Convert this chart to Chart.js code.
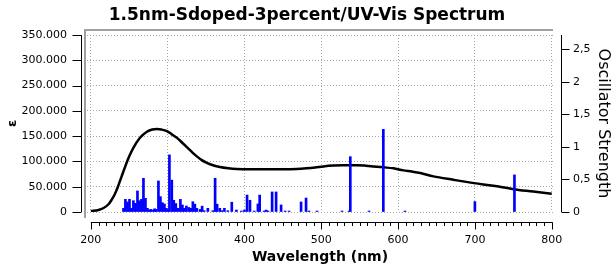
<!DOCTYPE html>
<html>
<head>
<meta charset="utf-8">
<script src="https://cdn.jsdelivr.net/npm/chart.js@4"></script>
<style>
  html, body { margin: 0; padding: 0; background: #fff; }
  #wrap { width: 614px; height: 268px; }
</style>
</head>
<body>
<div id="wrap"><canvas id="uvChart" width="614" height="268"></canvas></div>
<script>
// broadened spectrum (left axis, epsilon)
const waveCurve = [200, 210, 216, 223, 227, 231, 235, 240, 245, 250, 255, 264, 273, 280, 286, 292, 299, 305, 312, 319, 326, 332, 338, 344, 351, 359, 368, 379, 390, 405, 420, 440, 468, 481, 492, 503, 516, 529, 546, 558, 568, 581, 594, 607, 618, 629, 646, 672, 699, 724, 750, 776, 800]
const epsCurve = [2000, 4000, 7400, 15300, 23900, 34500, 49000, 70000, 91000, 110000, 126000, 146800, 158800, 163000, 164000, 163000, 160000, 154000, 146800, 137000, 126900, 118000, 110000, 103000, 97000, 92500, 89000, 86500, 85000, 84300, 84300, 84500, 85000, 86300, 88000, 90200, 91800, 92600, 92600, 91600, 90200, 88300, 86300, 82300, 80000, 77100, 70400, 63700, 57100, 51800, 45200, 40400, 35900]

// stick spectrum (right axis, oscillator strength)
const waveBars = [242.5, 245, 247.7, 250.3, 252.8, 255.4, 258, 260.7, 263.3, 265.9, 268.5, 271.1, 273.7, 276, 278, 280.7, 283, 285, 288, 290.6, 293.2, 295.8, 298.4, 300.2, 302.3, 305.4, 308, 310.6, 313.6, 316.6, 319.2, 321.8, 324.4, 327.5, 330.2, 332.8, 335.4, 338, 342.3, 344.9, 347.5, 352.3, 358.8, 361.8, 364.4, 367.9, 370.5, 373.9, 378.3, 383.5, 389.5, 396, 400, 403.4, 407.2, 412.7, 417.5, 419.8, 425.6, 428.2, 430.8, 436, 441.2, 447.7, 452.9, 458.1, 473.7, 480.2, 484.1, 494.5, 527, 536.2, 537.8, 562.2, 580.8, 609, 700, 751.5]
const oscStrength = [0.057, 0.195, 0.154, 0.195, 0.057, 0.174, 0.133, 0.323, 0.174, 0.195, 0.518, 0.21, 0.057, 0.03, 0.04, 0.03, 0.05, 0.04, 0.477, 0.236, 0.143, 0.123, 0.057, 0.03, 0.877, 0.49, 0.18, 0.13, 0.057, 0.195, 0.108, 0.057, 0.092, 0.07, 0.057, 0.158, 0.12, 0.057, 0.04, 0.09, 0.02, 0.057, 0.02, 0.518, 0.12, 0.057, 0.02, 0.057, 0.02, 0.15, 0.03, 0.015, 0.03, 0.26, 0.18, 0.015, 0.123, 0.26, 0.015, 0.03, 0.015, 0.308, 0.308, 0.108, 0.015, 0.015, 0.154, 0.215, 0.015, 0.015, 0.015, 0.015, 0.85, 0.015, 1.27, 0.015, 0.16, 0.57]

const xTicks = [200, 300, 400, 500, 600, 700, 800]
const yTicks = [0, 50000, 100000, 150000, 200000, 250000, 300000, 350000]
const y1Ticks = [0, 0.5, 1, 1.5, 2, 2.5]

Chart.defaults.font.family = 'DejaVu Sans'
Chart.defaults.color = '#000'

const thousands = v => String(v).replace(/\B(?=(\d{3})+(?!\d))/g, '.')
const commaDec = v => String(v).replace('.', ',')

// frame, offset axis lines and tick marks like the original program draws them
const axesPlugin = {
    id: 'axesPlugin',
    afterDraw(chart) {
        const { ctx, chartArea: a, scales } = chart
        const x = scales.x, y = scales.y, y1 = scales.y1
        ctx.save()
        // grey frame top + left
        ctx.fillStyle = '#a0a0a0'
        ctx.fillRect(a.left - 3, a.top - 6, a.right - a.left + 3, 2)
        ctx.fillRect(a.left - 3, a.top - 6, 2, a.bottom - a.top + 12)

        ctx.strokeStyle = '#000'
        ctx.lineWidth = 1
        ctx.beginPath()
        // left axis
        const lx = a.left - 5.5
        ctx.moveTo(lx, y.getPixelForValue(yTicks[yTicks.length - 1]))
        ctx.lineTo(lx, y.getPixelForValue(0))
        yTicks.forEach(v => {
            const py = Math.round(y.getPixelForValue(v)) + 0.5
            ctx.moveTo(lx - 9, py)
            ctx.lineTo(lx, py)
        })
        // right axis
        const rx = a.right + 8.5
        ctx.moveTo(rx, a.top)
        ctx.lineTo(rx, y1.getPixelForValue(0))
        y1Ticks.forEach(v => {
            const py = Math.round(y1.getPixelForValue(v)) + 0.5
            ctx.moveTo(rx, py)
            ctx.lineTo(rx + 8, py)
        })
        // bottom axis
        const by = a.bottom + 10.5
        ctx.moveTo(x.getPixelForValue(xTicks[0]), by)
        ctx.lineTo(x.getPixelForValue(xTicks[xTicks.length - 1]) + 1, by)
        for (let v = xTicks[0]; v <= xTicks[xTicks.length - 1]; v += 10) {
            const px = Math.round(x.getPixelForValue(v)) + 0.5
            ctx.moveTo(px, by)
            ctx.lineTo(px, by + (v % 100 === 0 ? 7 : 3.5))
        }
        ctx.stroke()
        ctx.restore()
    }
}

new Chart(document.getElementById('uvChart'), {
    type: 'bar',
    data: {
        datasets: [
            {
                type: 'bar',
                data: waveBars.map((w, i) => ({ x: w, y: oscStrength[i] })),
                yAxisID: 'y1',
                backgroundColor: '#0000ff',
                borderWidth: 0,
                barThickness: 2,
                order: 0
            },
            {
                type: 'line',
                data: waveCurve.map((w, i) => ({ x: w, y: epsCurve[i] })),
                yAxisID: 'y',
                borderColor: '#000',
                borderWidth: 2.5,
                pointRadius: 0,
                cubicInterpolationMode: 'monotone',
                order: 1
            }
        ]
    },
    options: {
        responsive: false,
        animation: false,
        devicePixelRatio: 1,
        layout: { padding: 0 },
        plugins: {
            legend: { display: false },
            tooltip: { enabled: false },
            title: {
                display: true,
                text: '1.5nm-Sdoped-3percent/UV-Vis Spectrum',
                font: { size: 17, weight: 'bold' },
                color: '#000',
                padding: { top: 5, bottom: 9.6 }
            }
        },
        scales: {
            x: {
                type: 'linear',
                offset: false,
                min: 195,
                max: 801.7,
                afterBuildTicks: s => { s.ticks = xTicks.map(v => ({ value: v })) },
                afterFit: s => { s.height = 56 },
                grid: { offset: false, color: '#a8a8a8', drawTicks: false },
                border: { display: false, dash: [1, 2] },
                ticks: { padding: 22, maxRotation: 0, font: { size: 11 }, color: '#000' },
                title: {
                    display: true,
                    text: 'Wavelength (nm)',
                    font: { size: 14, weight: 'bold' },
                    color: '#000',
                    padding: { top: 0, bottom: 2 }
                }
            },
            y: {
                position: 'left',
                min: 0,
                max: 350000,
                afterBuildTicks: s => { s.ticks = yTicks.map(v => ({ value: v })) },
                afterFit: s => { s.width = 87 },
                grid: { color: '#a8a8a8', drawTicks: false },
                border: { display: false, dash: [1, 2] },
                ticks: { padding: 20, font: { size: 11 }, color: '#000', callback: v => thousands(v) },
                title: {
                    display: true,
                    text: 'ε',
                    font: { size: 13, weight: 'bold' },
                    color: '#000',
                    padding: { top: 5, bottom: 0 }
                }
            },
            y1: {
                position: 'right',
                min: 0,
                max: 2.72,
                afterBuildTicks: s => { s.ticks = y1Ticks.map(v => ({ value: v })) },
                afterFit: s => { s.width = 61 },
                grid: { drawOnChartArea: false, drawTicks: false },
                border: { display: false },
                ticks: { padding: 20, font: { size: 11 }, color: '#000', callback: v => commaDec(v) },
                title: {
                    display: true,
                    text: 'Oscillator Strength',
                    font: { size: 16 },
                    color: '#000',
                    padding: { top: 1.4, bottom: 0 }
                }
            }
        }
    },
    plugins: [axesPlugin]
})
</script>
</body>
</html>
